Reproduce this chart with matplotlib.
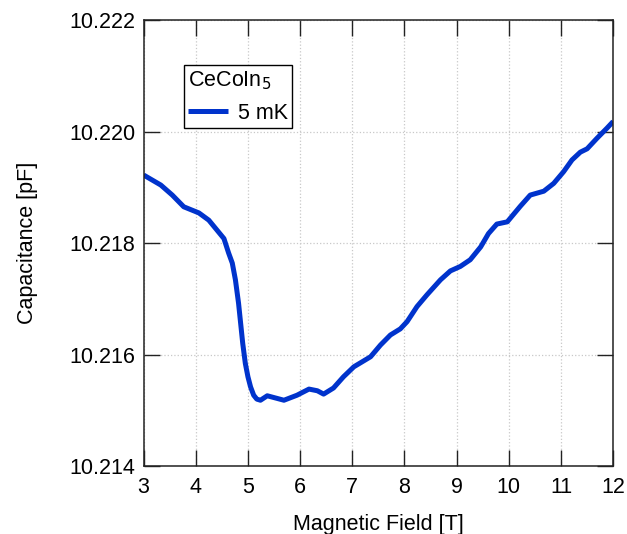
import matplotlib.pyplot as plt
import numpy as np

plt.rcParams['font.family'] = ['Liberation Sans', 'DejaVu Sans']

# field [T] and capacitance [pF]
field = [3.0, 3.33, 3.55, 3.77, 4.06, 4.25, 4.54, 4.63, 4.70, 4.76, 4.82,
         4.86, 4.90, 4.95, 5.0, 5.05, 5.11, 5.17, 5.24, 5.37, 5.69, 5.94,
         6.17, 6.33, 6.45, 6.64, 6.83, 7.03, 7.35, 7.54, 7.73, 7.92, 8.05,
         8.24, 8.43, 8.69, 8.88, 9.07, 9.26, 9.46, 9.61, 9.77, 9.97, 10.22,
         10.41, 10.67, 10.86, 11.05, 11.21, 11.37, 11.50, 11.69, 11.88, 12.0]
cap = [10.21922, 10.21904, 10.21886, 10.21865, 10.21854, 10.21841, 10.21808,
       10.21782, 10.21764, 10.21734, 10.21692, 10.21656, 10.21620, 10.21584,
       10.21560, 10.21542, 10.21527, 10.21520, 10.21518, 10.21526, 10.21518,
       10.21527, 10.21538, 10.21535, 10.21529, 10.21540, 10.21560, 10.21578,
       10.21596, 10.21617, 10.21635, 10.21646, 10.21659, 10.21686, 10.21707,
       10.21734, 10.21750, 10.21758, 10.21770, 10.21793, 10.21817, 10.21834,
       10.21838, 10.21866, 10.21886, 10.21893, 10.21907, 10.21928, 10.21949,
       10.21963, 10.21969, 10.21988, 10.22006, 10.22018]

xticks = [3, 4, 5, 6, 7, 8, 9, 10, 11, 12]
yticks = [10.214, 10.216, 10.218, 10.220, 10.222]

fs = 15.5

fig = plt.figure(figsize=(6.27, 5.34), dpi=100)
ax = fig.add_axes([0.229, 0.1273, 0.749, 0.8352])

ax.plot(field, cap, color='#0033cc', lw=3.6, solid_joinstyle='round',
        solid_capstyle='butt', label='5 mK')

ax.set_xlim(3, 12)
ax.set_ylim(10.214, 10.222)
ax.set_xticks(xticks)
ax.set_yticks(yticks)
ax.set_yticklabels(['%.3f' % v for v in yticks])
ax.grid(True, ls=':', color='#c8c8c8', lw=0.9)
ax.tick_params(direction='in', length=11.5, width=1.0, top=True, right=True,
               labelsize=fs, color='#222222')
ax.tick_params(axis='x', pad=8)
ax.tick_params(axis='y', pad=6)
for s in ax.spines.values():
    s.set_linewidth(1.1)
    s.set_color('#222222')

ax.set_xlabel('Magnetic Field [T]', fontsize=fs)
ax.set_ylabel('Capacitance [pF]', fontsize=fs)
ax.xaxis.set_label_coords(0.5, -0.108)
ax.yaxis.set_label_coords(-0.224, 0.5)

leg = ax.legend(loc='upper left', bbox_to_anchor=(0.0862, 0.899), title='CeCoIn$_5$',
                fontsize=fs, title_fontsize=fs, fancybox=False, framealpha=1,
                edgecolor='black', handlelength=1.85, borderaxespad=0,
                borderpad=0.2, handletextpad=0.45)
leg._legend_box.align = 'left'
leg.get_frame().set_linewidth(1.0)

fig.savefig('out.png', dpi=100)
